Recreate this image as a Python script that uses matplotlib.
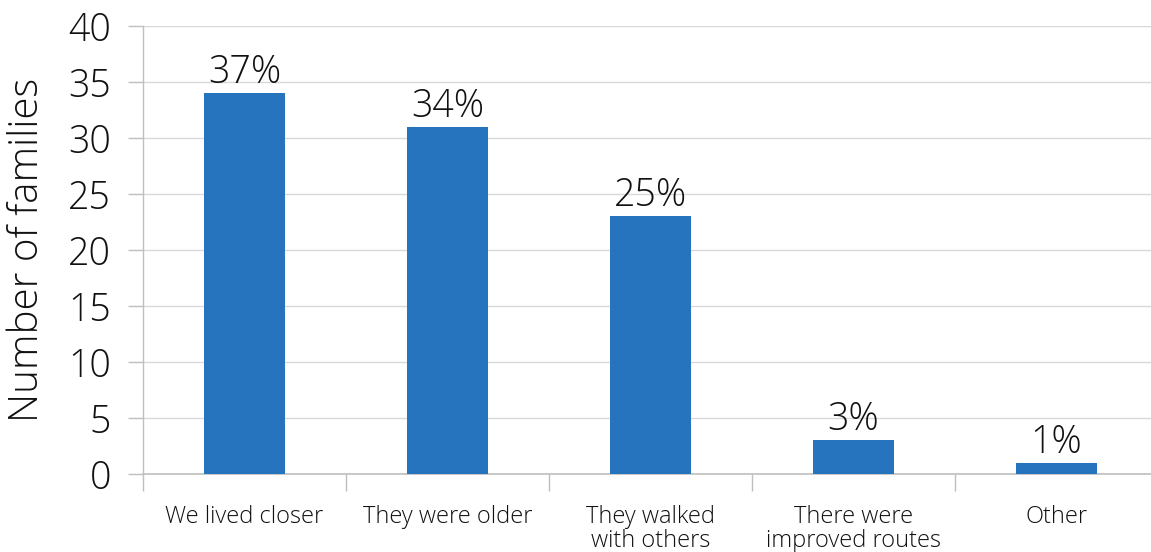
import matplotlib
matplotlib.use("Agg")
import matplotlib.pyplot as plt

categories = ["We lived closer", "They were older", "They walked\nwith others",
              "There were\nimproved routes", "Other"]
families = [34, 31, 23, 3, 1]
share_labels = ["37%", "34%", "25%", "3%", "1%"]
y_ticks = [0, 5, 10, 15, 20, 25, 30, 35, 40]

plt.rcParams['font.family'] = ['Open Sans', 'DejaVu Sans']
plt.rcParams['font.weight'] = 300

bar_color = "#2673be"
grid_color = "#d9d9d9"
axis_color = "#bfbfbf"
text_color = "#111111"

fig = plt.figure(figsize=(11.51, 5.52), dpi=100)
ax = fig.add_axes([0.1242, 0.1413, 0.8819, 0.8116])

x = range(len(categories))
ax.bar(x, families, width=0.4, color=bar_color, zorder=3)

for xi, v, lab in zip(x, families, share_labels):
    ax.text(xi, v + 0.1, lab, ha='center', va='bottom', fontsize=27,
            color=text_color, fontweight=300)

ax.set_xlim(-0.5, len(categories) - 0.5)
ax.set_ylim(0, 40)
ax.set_yticks(y_ticks)
ax.set_yticklabels([str(t) for t in y_ticks], fontsize=27, color=text_color)
ax.set_xticks([i - 0.5 for i in range(len(categories) + 1)], minor=False)
ax.set_xticklabels([])
ax.set_xticks(list(x), minor=True)
ax.set_xticklabels(categories, minor=True, fontsize=17, color=text_color,
                   linespacing=1.05)
ax.tick_params(axis='x', which='minor', length=0, pad=22)
ax.tick_params(axis='x', which='major', length=12, color=axis_color, width=1)
ax.tick_params(axis='y', length=11, color=axis_color, width=1, pad=12)

ax.set_ylabel("Number of families", fontsize=29, color=text_color,
              fontweight=300)
ax.yaxis.set_label_coords(-0.094, 0.5)

ax.yaxis.grid(True, color=grid_color, linewidth=1, zorder=0)
for s in ['top', 'right']:
    ax.spines[s].set_visible(False)
ax.spines['left'].set_color(axis_color)
ax.spines['bottom'].set_color(axis_color)
ax.spines['left'].set_linewidth(1)
ax.spines['bottom'].set_linewidth(1.2)

fig.savefig("out.png", dpi=100)
